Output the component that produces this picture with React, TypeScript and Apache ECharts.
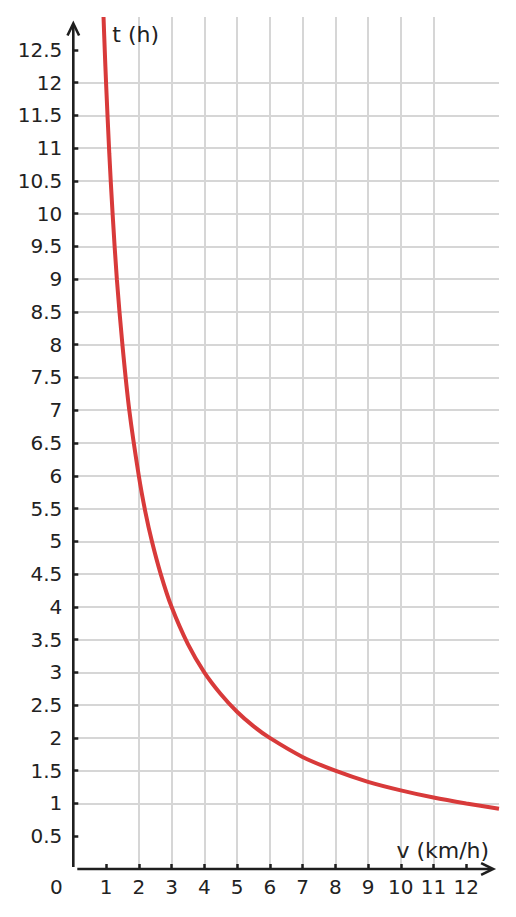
import React, { useEffect, useRef } from "react";
import * as echarts from "echarts";

// Speed v (km/h) and time t (h)
const speeds = [0.923, 0.96, 1, 1.1, 1.2, 1.33, 1.5, 1.71, 2, 2.2, 2.4, 2.67, 3, 3.5, 4, 4.5, 5, 5.5, 6, 7, 8, 9, 10, 11, 12, 13];
const times = [13, 12.5, 12, 10.91, 10, 9, 8, 7, 6, 5.45, 5, 4.5, 4, 3.43, 3, 2.67, 2.4, 2.18, 2, 1.71, 1.5, 1.33, 1.2, 1.09, 1, 0.92];

// Tick labels
const xTicks = [1, 2, 3, 4, 5, 6, 7, 8, 9, 10, 11, 12];
const yTicks = [0.5, 1, 1.5, 2, 2.5, 3, 3.5, 4, 4.5, 5, 5.5, 6, 6.5, 7, 7.5, 8, 8.5, 9, 9.5, 10, 10.5, 11, 11.5, 12, 12.5];

const xName = "v (km/h)";
const yName = "t (h)";
const originLabel = "0";

const FONT = "DejaVu Sans";
const TEXT = "#222222";
const AXIS = "#1f1f1f";
const GRID = "#d6d6d6";
const RED = "#d83a3a";

export default function App() {
  const ref = useRef<HTMLDivElement>(null);

  useEffect(() => {
    if (!ref.current) return;
    const chart = echarts.init(ref.current, undefined, { renderer: "svg" });

    chart.setOption({
      animation: false,
      backgroundColor: "#ffffff",
      grid: { left: 73.3, right: 17, top: 17, bottom: 48, containLabel: false },
      xAxis: {
        type: "value",
        min: 0,
        max: 13,
        interval: 1,
        axisLine: { show: false },
        axisTick: {
          show: true,
          inside: true,
          length: 5,
          customValues: xTicks,
          lineStyle: { color: AXIS, width: 2.5 },
        },
        axisLabel: {
          customValues: xTicks,
          margin: 8,
          fontFamily: FONT,
          fontSize: 20,
          color: TEXT,
        },
        splitLine: {
          show: true,
          showMinLine: false,
          showMaxLine: false,
          lineStyle: { color: GRID, width: 2 },
        },
      },
      yAxis: {
        type: "value",
        min: 0,
        max: 13,
        interval: 0.5,
        axisLine: { show: false },
        axisTick: {
          show: true,
          inside: true,
          length: 5,
          customValues: yTicks,
          lineStyle: { color: AXIS, width: 2.5 },
        },
        axisLabel: {
          customValues: yTicks,
          margin: 11,
          fontFamily: FONT,
          fontSize: 20,
          color: TEXT,
        },
        splitLine: {
          show: true,
          showMinLine: false,
          showMaxLine: false,
          lineStyle: { color: GRID, width: 2 },
        },
      },
      series: [
        {
          type: "line",
          data: speeds.map((v, i) => [v, times[i]]),
          smooth: 0.3,
          showSymbol: false,
          clip: false,
          lineStyle: { color: RED, width: 4 },
          z: 3,
        },
      ],
    });

    const o = chart.convertToPixel({ gridIndex: 0 }, [0, 0]) as number[];
    const yTip = chart.convertToPixel({ gridIndex: 0 }, [0, 12.9]) as number[];
    const xTip = chart.convertToPixel({ gridIndex: 0 }, [12.82, 0]) as number[];
    const ox = o[0];
    const oy = o[1];
    const axisStyle = { stroke: AXIS, lineWidth: 2.6, fill: "none" };

    chart.setOption({
      graphic: [
        {
          type: "line",
          z: 10,
          shape: { x1: ox, y1: oy - 2, x2: ox, y2: yTip[1] + 1 },
          style: axisStyle,
        },
        {
          type: "polyline",
          z: 10,
          shape: {
            points: [
              [ox - 5.8, yTip[1] + 12],
              [ox, yTip[1]],
              [ox + 5.8, yTip[1] + 12],
            ],
          },
          style: axisStyle,
        },
        {
          type: "line",
          z: 10,
          shape: { x1: ox + 4, y1: oy, x2: xTip[0] - 1, y2: oy },
          style: axisStyle,
        },
        {
          type: "polyline",
          z: 10,
          shape: {
            points: [
              [xTip[0] - 12, oy - 5.8],
              [xTip[0], oy],
              [xTip[0] - 12, oy + 5.8],
            ],
          },
          style: axisStyle,
        },
        {
          type: "text",
          z: 10,
          x: ox - 17,
          y: oy + 18,
          style: {
            text: originLabel,
            fontFamily: FONT,
            fontSize: 20,
            fill: TEXT,
            align: "center",
            verticalAlign: "middle",
          },
        },
        {
          type: "text",
          z: 10,
          x: ox + 39,
          y: yTip[1] + 11,
          style: {
            text: yName,
            fontFamily: FONT,
            fontSize: 22,
            fill: TEXT,
            align: "left",
            verticalAlign: "middle",
          },
        },
        {
          type: "text",
          z: 10,
          x: xTip[0] - 4,
          y: oy - 19,
          style: {
            text: xName,
            fontFamily: FONT,
            fontSize: 22,
            fill: TEXT,
            align: "right",
            verticalAlign: "middle",
          },
        },
      ],
    });

    return () => {
      chart.dispose();
    };
  }, []);

  return (
    <div
      ref={ref}
      style={{ position: "absolute", left: 0, top: 0, width: 516, height: 917 }}
    />
  );
}
